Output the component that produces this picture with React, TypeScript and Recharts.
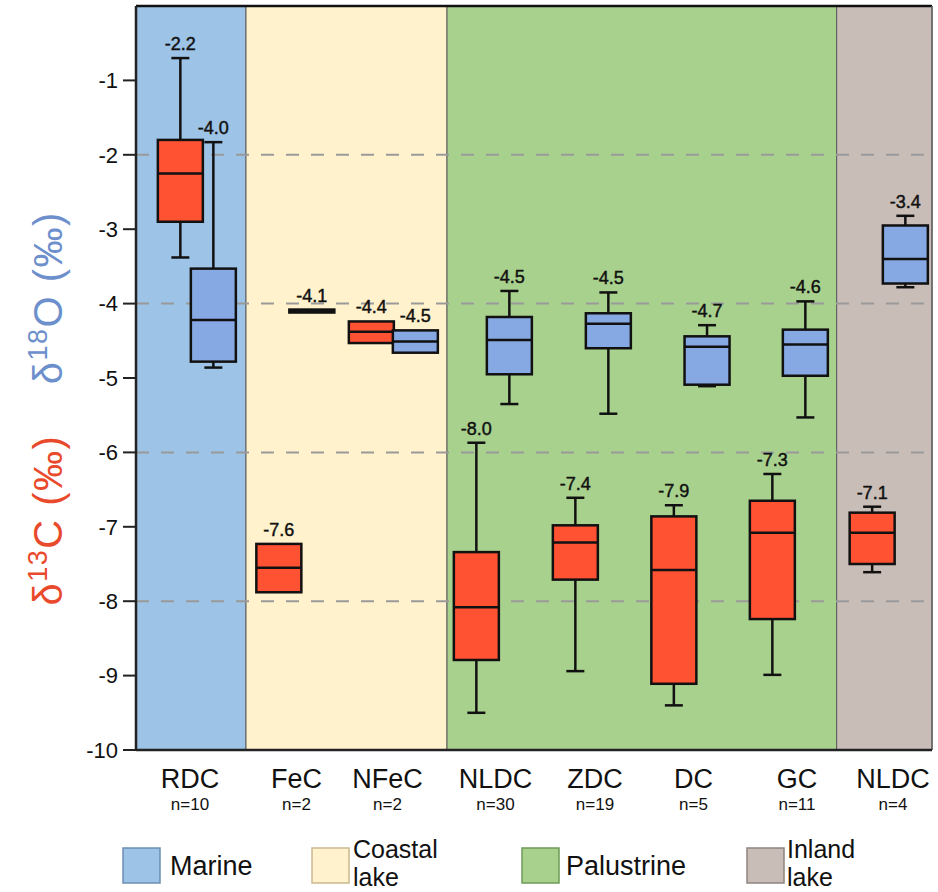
import React from 'react';
import { ComposedChart, Bar, XAxis, YAxis, ReferenceArea, ReferenceLine, LabelList } from 'recharts';

// x positions use one unit per sample group on a numeric axis
const groups = ['RDC', 'FeC', 'NFeC', 'NLDC', 'ZDC', 'DC', 'GC', 'NLDC'];
const counts = ['n=10', 'n=2', 'n=2', 'n=30', 'n=19', 'n=5', 'n=11', 'n=4'];
const groupX = [0.54, 1.605, 2.515, 3.595, 4.59, 5.575, 6.61, 7.57];

// δ13C (red boxes)
const carbonX = [0.44, 1.425, 2.35, 3.4, 4.39, 5.375, 6.36, 7.358];
const carbonMin = [-3.38, -7.88, -4.53, -9.5, -8.94, -9.4, -8.99, -7.61];
const carbonQ1 = [-2.9, -7.88, -4.53, -8.79, -7.71, -9.11, -8.24, -7.5];
const carbonMed = [-2.25, -7.55, -4.38, -8.08, -7.21, -7.58, -7.08, -7.08];
const carbonQ3 = [-1.8, -7.23, -4.24, -7.34, -6.98, -6.86, -6.65, -6.81];
const carbonMax = [-0.7, -7.23, -4.24, -5.87, -6.61, -6.71, -6.29, -6.73];
const carbonMean = ['-2.2', '-7.6', '-4.4', '-8.0', '-7.4', '-7.9', '-7.3', '-7.1'];

// δ18O (blue boxes)
const oxygenX = [0.77, 1.755, 2.79, 3.73, 4.72, 5.707, 6.69, 7.69];
const oxygenMin = [-4.86, -4.12, -4.66, -5.35, -5.48, -5.11, -5.53, -3.78];
const oxygenQ1 = [-4.78, -4.12, -4.66, -4.95, -4.6, -5.09, -4.97, -3.73];
const oxygenMed = [-4.22, -4.1, -4.51, -4.49, -4.27, -4.58, -4.55, -3.4];
const oxygenQ3 = [-3.53, -4.08, -4.36, -4.18, -4.13, -4.44, -4.35, -2.95];
const oxygenMax = [-1.83, -4.08, -4.36, -3.83, -3.85, -4.29, -3.97, -2.82];
const oxygenMean = ['-4.0', '-4.1', '-4.5', '-4.5', '-4.5', '-4.7', '-4.6', '-3.4'];

const envNames = ['Marine', 'Coastal lake', 'Palustrine', 'Inland lake'];
const envFrom = [0, 1.1, 3.11, 7.007];
const envTo = [1.1, 3.11, 7.007, 7.96];

const yTicks = [-10, -9, -8, -7, -6, -5, -4, -3, -2, -1];
const gridLevels = [-2, -4, -6, -8];

const envColors = ['#9dc3e6', '#fff2cc', '#a9d18e', '#c9bdb8'];
const envBorders = ['#6d8fb3', '#c9b98e', '#6f9a55', '#8f8480'];
const RED = '#ff5233';
const BLUE = '#86a8e3';
const FONT = '"Liberation Sans", Arial, sans-serif';

const boxes = [
  ...carbonX.map((x, i) => ({
    x, kind: 'c', label: carbonMean[i],
    min: carbonMin[i], q1: carbonQ1[i], med: carbonMed[i], q3: carbonQ3[i], max: carbonMax[i],
    range: [carbonMin[i], carbonMax[i]],
  })),
  ...oxygenX.map((x, i) => ({
    x, kind: 'o', label: oxygenMean[i],
    min: oxygenMin[i], q1: oxygenQ1[i], med: oxygenMed[i], q3: oxygenQ3[i], max: oxygenMax[i],
    range: [oxygenMin[i], oxygenMax[i]],
  })),
];

const BoxShape = (props: any) => {
  const { x, y, width, height, payload } = props;
  const { min, q1, med, q3, max, kind } = payload;
  const cx = x + width / 2;
  const py = (v: number) => y + ((max - v) / (max - min)) * height;
  const hw = 22.5;
  const cap = 9;
  const sw = 2.5;
  const ink = '#111';
  return (
    <g>
      {max > q3 && (
        <g>
          <line x1={cx} x2={cx} y1={py(max)} y2={py(q3)} stroke={ink} strokeWidth={sw} />
          <line x1={cx - cap} x2={cx + cap} y1={py(max)} y2={py(max)} stroke={ink} strokeWidth={sw} />
        </g>
      )}
      {min < q1 && (
        <g>
          <line x1={cx} x2={cx} y1={py(q1)} y2={py(min)} stroke={ink} strokeWidth={sw} />
          <line x1={cx - cap} x2={cx + cap} y1={py(min)} y2={py(min)} stroke={ink} strokeWidth={sw} />
        </g>
      )}
      <rect x={cx - hw} y={py(q3)} width={hw * 2} height={py(q1) - py(q3)}
        fill={kind === 'c' ? RED : BLUE} stroke={ink} strokeWidth={sw} />
      <line x1={cx - hw} x2={cx + hw} y1={py(med)} y2={py(med)} stroke={ink} strokeWidth={sw} />
    </g>
  );
};

const GroupTick = (props: any) => {
  const { x, y, payload } = props;
  const i = payload.index;
  return (
    <g fontFamily={FONT} fill="#111">
      <text x={x} y={y + 38} textAnchor="middle" fontSize={27} fill="#111">{groups[i]}</text>
      <text x={x} y={y + 60} textAnchor="middle" fontSize={17} fill="#111">{counts[i]}</text>
    </g>
  );
};

const IsotopeLabel = (props: any) => {
  const vb = props.viewBox;
  const bx = vb.x + 62;
  const oy = vb.y + vb.height * 0.392;
  const cy = vb.y + vb.height * 0.691;
  return (
    <g fontFamily={FONT}>
      <text x={bx} y={oy} transform={`rotate(-90, ${bx}, ${oy})`} textAnchor="middle"
        fontSize={40} fill="#6d8fcc" letterSpacing={1.5}>
        δ<tspan fontSize={27} dy={-15}>18</tspan><tspan dy={15}>O (‰)</tspan>
      </text>
      <text x={bx} y={cy} transform={`rotate(-90, ${bx}, ${cy})`} textAnchor="middle"
        fontSize={40} fill="#ea4a2c" letterSpacing={1.5}>
        δ<tspan fontSize={27} dy={-15}>13</tspan><tspan dy={15}>C (‰)</tspan>
      </text>
    </g>
  );
};

const EnvLegend = () => {
  const items = [
    { sx: 123, tx: 170 },
    { sx: 312, tx: 353 },
    { sx: 522, tx: 566 },
    { sx: 747, tx: 787 },
  ];
  return (
    <svg width={938} height={60} style={{ position: 'absolute', left: 0, top: 832 }} fontFamily={FONT}>
      {envNames.map((name, i) => {
        const words = name.split(' ');
        return (
          <g key={i}>
            <rect x={items[i].sx} y={16} width={37} height={35} fill={envColors[i]} stroke={envBorders[i]} strokeWidth={1.5} />
            {words.length === 1 ? (
              <text x={items[i].tx} y={43} fontSize={27} fill="#111">{name}</text>
            ) : (
              <g>
                <text x={items[i].tx} y={26} fontSize={25} fill="#111">{words[0]}</text>
                <text x={items[i].tx} y={54} fontSize={25} fill="#111">{words[1]}</text>
              </g>
            )}
          </g>
        );
      })}
    </svg>
  );
};

export default function App() {
  return (
    <div style={{ position: 'absolute', left: 0, top: 0, width: 938, height: 892, background: '#fff' }}>
      <ComposedChart width={938} height={892} data={boxes}
        margin={{ top: 6, right: 6, left: 0, bottom: 82 }}>
        {envNames.map((n, i) => (
          <ReferenceArea key={n} x1={envFrom[i]} x2={envTo[i]} y1={-10} y2={0}
            fill={envColors[i]} fillOpacity={1} stroke="#5a5a5a" strokeWidth={1} />
        ))}
        {gridLevels.map((v) => (
          <ReferenceLine key={v} y={v} stroke="#9a9a9a" strokeWidth={2} strokeDasharray="13 12" zIndex={250} />
        ))}
        <ReferenceLine y={0} stroke="#111" strokeWidth={2.5} />
        <ReferenceLine x={7.96} stroke="#666" strokeWidth={1.5} />
        <XAxis dataKey="x" type="number" domain={[0, 7.96]} ticks={groupX} interval={0}
          height={60} tickSize={0} tickMargin={0} tickLine={false}
          axisLine={{ stroke: '#222', strokeWidth: 2.5 }} tick={<GroupTick />} allowDataOverflow />
        <YAxis type="number" domain={[-10, 0]} ticks={yTicks} interval={0} width={136}
          tickSize={13} tickMargin={5}
          tick={{ fontSize: 22, fill: '#111', fontFamily: FONT }}
          tickLine={{ stroke: '#222', strokeWidth: 2 }}
          axisLine={{ stroke: '#222', strokeWidth: 2.5 }}
          label={<IsotopeLabel />} allowDataOverflow />
        <Bar dataKey="range" barSize={45} shape={<BoxShape />} isAnimationActive={false}>
          <LabelList dataKey="label" position="top" offset={8} fill="#111" fontSize={18}
            fontFamily={FONT} stroke="#111" strokeWidth={0.45} />
        </Bar>
      </ComposedChart>
      <EnvLegend />
    </div>
  );
}
